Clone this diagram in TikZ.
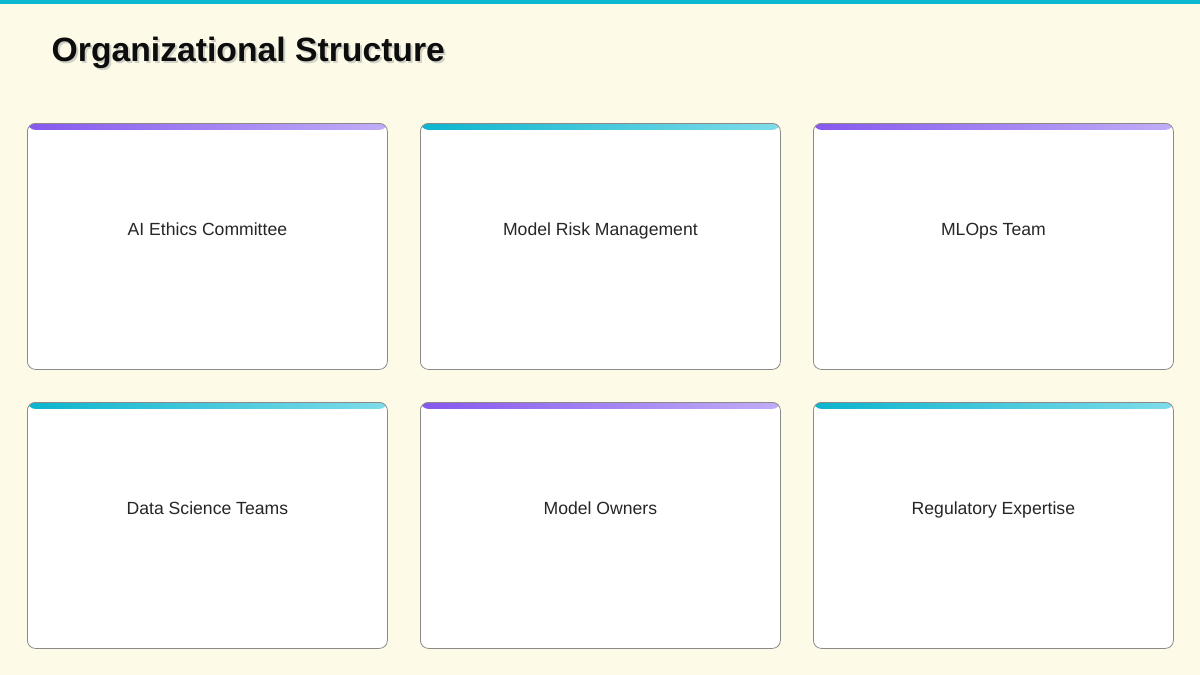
\documentclass[tikz,border=0pt]{standalone}
\usepackage{fontspec}
\setmainfont{Liberation Sans}
\usetikzlibrary{calc}
\definecolor{bg}{HTML}{FDFBE8}
\definecolor{topbar}{HTML}{0BB8D2}
\definecolor{purA}{HTML}{8658EE}
\definecolor{purB}{HTML}{C0ADF7}
\definecolor{teaA}{HTML}{0BB5CE}
\definecolor{teaB}{HTML}{7FDCEA}
\definecolor{cardline}{HTML}{8A8A8A}
\tikzset{
  card/.style={draw=cardline, line width=0.8pt, fill=white, rounded corners=8pt,
    minimum width=360pt, minimum height=246pt, inner sep=0pt, anchor=north west,
    path picture={\shade[left color=#1A, right color=#1B]
      (path picture bounding box.north west) rectangle
      ([yshift=-6.5pt]path picture bounding box.north east);}},
  card/.default=pur,
  cardtext/.style={font=\fontsize{17.6}{20}\selectfont, text=black!85, anchor=base, inner sep=0pt},
  titletext/.style={font=\fontsize{33.7}{40}\selectfont\bfseries, anchor=base west, inner sep=0pt}
}
\begin{document}
\begin{tikzpicture}[x=1pt,y=-1pt]
\useasboundingbox (0,0) rectangle (1200,675);
\fill[bg] (0,0) rectangle (1200,675);
\fill[topbar] (0,0) rectangle (1200,4);
% title with soft shadow
\node[titletext, text=black!35, opacity=0.5] (titleshadow) at (53.5,63.5) {Organizational Structure};
\node[titletext, text=black!95] (title) at (51.5,61.5) {Organizational Structure};
% cards
\node[card=pur] (c1) at (27,123) {};
\node[card=tea] (c2) at (420,123) {};
\node[card=pur] (c3) at (813,123) {};
\node[card=tea] (c4) at (27,402) {};
\node[card=pur] (c5) at (420,402) {};
\node[card=tea] (c6) at (813,402) {};
\node[cardtext] (t1) at ($(c1.north)+(0,112)$) {AI Ethics Committee};
\node[cardtext] (t2) at ($(c2.north)+(0,112)$) {Model Risk Management};
\node[cardtext] (t3) at ($(c3.north)+(0,112)$) {MLOps Team};
\node[cardtext] (t4) at ($(c4.north)+(0,112)$) {Data Science Teams};
\node[cardtext] (t5) at ($(c5.north)+(0,112)$) {Model Owners};
\node[cardtext] (t6) at ($(c6.north)+(0,112)$) {Regulatory Expertise};
\end{tikzpicture}
\end{document}
